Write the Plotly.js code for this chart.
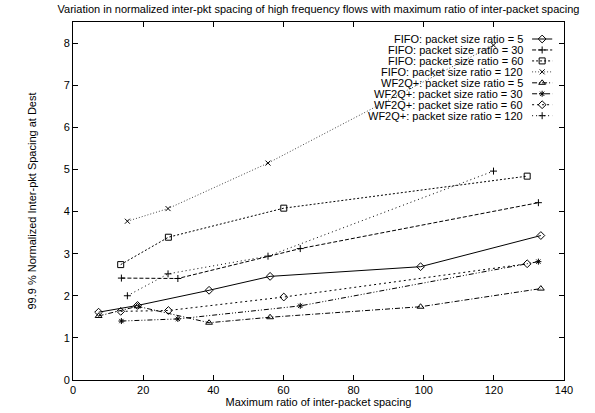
<!DOCTYPE html>
<html>
<head>
<meta charset="utf-8">
<script src="https://cdn.plot.ly/plotly-3.0.1.min.js"></script>
<style>
  html, body { margin: 0; padding: 0; background: #fff; }
  #chart { width: 595px; height: 413px; }
</style>
</head>
<body>
<div id="chart"></div>
<script>
// x values (maximum ratio of inter-packet spacing) per packet size ratio
const xRatio5   = [7.3, 18.4, 38.8, 56.2, 99.1, 133.4];
const xRatio30  = [13.8, 29.9, 64.8, 132.7];
const xRatio60  = [13.6, 27.2, 60.1, 129.5];
const xRatio120 = [15.5, 27.1, 55.6, 119.9];

// 99.9 % normalized inter-pkt spacing at destination
const fifo5   = [1.61, 1.77, 2.13, 2.46, 2.69, 3.43];
const fifo30  = [2.42, 2.41, 3.12, 4.21];
const fifo60  = [2.74, 3.39, 4.08, 4.84];
const fifo120 = [3.77, 4.07, 5.15, 7.95];
const wf5     = [1.52, 1.75, 1.36, 1.49, 1.74, 2.17];
const wf30    = [1.40, 1.45, 1.76, 2.81];
const wf60    = [1.63, 1.65, 1.97, 2.76];
const wf120   = [2.00, 2.52, 2.94, 4.96];

const seriesNames = [
  "FIFO: packet size ratio = 5",
  "FIFO: packet size ratio = 30",
  "FIFO: packet size ratio = 60",
  "FIFO: packet size ratio = 120",
  "WF2Q+: packet size ratio = 5",
  "WF2Q+: packet size ratio = 30",
  "WF2Q+: packet size ratio = 60",
  "WF2Q+: packet size ratio = 120"
];
const seriesX = [xRatio5, xRatio30, xRatio60, xRatio120, xRatio5, xRatio30, xRatio60, xRatio120];
const seriesY = [fifo5, fifo30, fifo60, fifo120, wf5, wf30, wf60, wf120];

// styles
const symbols = ["diamond-open", "cross-thin-open", "square-open", "x-thin-open",
                 "triangle-up-open", "asterisk-open", "diamond-open", "cross-thin-open"];
const sizes = [6, 5, 6, 5, 6, 5, 6, 5];
const dashes = ["solid", "4px,2px", "2px,2px", "1px,2px",
                "5px,2px,1px,2px", "5px,2px,1px,2px,1px,2px", "2px,3px", "1px,3px"];
const colors = ["#000", "#000", "#000", "#444", "#000", "#000", "#000", "#000"];

const FONT = "Liberation Sans, Arial, Helvetica, sans-serif";

const traces = [];
for (let i = 0; i < seriesNames.length; i++) {
  traces.push({
    type: "scatter", mode: "lines+markers", name: seriesNames[i],
    x: seriesX[i], y: seriesY[i], xaxis: "x", yaxis: "y",
    line: { color: colors[i], width: 1, dash: dashes[i] },
    marker: { symbol: symbols[i], size: sizes[i], color: "#000", line: { color: "#000", width: 1 } },
    showlegend: false, hoverinfo: "x+y"
  });
}

// custom gnuplot-style key (text right-aligned, sample on the right)
const keyTop = 0.9525, keyStep = 0.0306;
const sampleX0 = 0.935, sampleX1 = 0.976, textRight = 0.921;
const annotations = [];
for (let i = 0; i < seriesNames.length; i++) {
  const yk = keyTop - i * keyStep;
  traces.push({
    type: "scatter", mode: "lines+markers", xaxis: "x2", yaxis: "y2",
    x: [sampleX0, (sampleX0 + sampleX1) / 2, sampleX1], y: [yk, yk, yk],
    line: { color: colors[i], width: 1, dash: dashes[i] },
    marker: { symbol: symbols[i], size: sizes[i], color: "#000", opacity: [0, 1, 0], line: { color: "#000", width: 1 } },
    showlegend: false, hoverinfo: "skip"
  });
  annotations.push({
    xref: "paper", yref: "paper", x: textRight, y: yk,
    xanchor: "right", yanchor: "middle", showarrow: false,
    text: seriesNames[i], font: { family: FONT, size: 11, color: "#000" }
  });
}

const layout = {
  width: 595, height: 413,
  margin: { l: 73, r: 31, t: 22, b: 33 },
  paper_bgcolor: "#fff", plot_bgcolor: "#fff",
  font: { family: FONT, size: 11, color: "#000" },
  showlegend: false,
  title: {
    text: "Variation in normalized inter-pkt spacing of high frequency flows with maximum ratio of inter-packet spacing",
    x: 0.5, xref: "paper", xanchor: "center", y: 0.988, yref: "container", yanchor: "top",
    font: { family: FONT, size: 11, color: "#000" }
  },
  xaxis: {
    range: [0, 140], tick0: 0, dtick: 20, ticks: "inside", ticklen: 5, tickcolor: "#000",
    showline: true, linecolor: "#000", linewidth: 1, mirror: "ticks",
    showgrid: false, zeroline: false,
    tickfont: { family: FONT, size: 11, color: "#000" },
    title: { text: "Maximum ratio of inter-packet spacing", standoff: 2,
             font: { family: FONT, size: 11, color: "#000" } }
  },
  yaxis: {
    range: [0, 8.5], tick0: 0, dtick: 1, ticks: "inside", ticklen: 5, tickcolor: "#000",
    showline: true, linecolor: "#000", linewidth: 1, mirror: "ticks",
    showgrid: false, zeroline: false,
    tickfont: { family: FONT, size: 11, color: "#000" },
    title: { text: "99.9 % Normalized Inter-pkt Spacing at Dest", standoff: 24,
             font: { family: FONT, size: 11, color: "#000" } }
  },
  xaxis2: { overlaying: "x", range: [0, 1], visible: false, fixedrange: true },
  yaxis2: { overlaying: "y", range: [0, 1], visible: false, fixedrange: true },
  annotations: annotations
};

Plotly.newPlot("chart", traces, layout, { displayModeBar: false, staticPlot: true });
</script>
</body>
</html>
